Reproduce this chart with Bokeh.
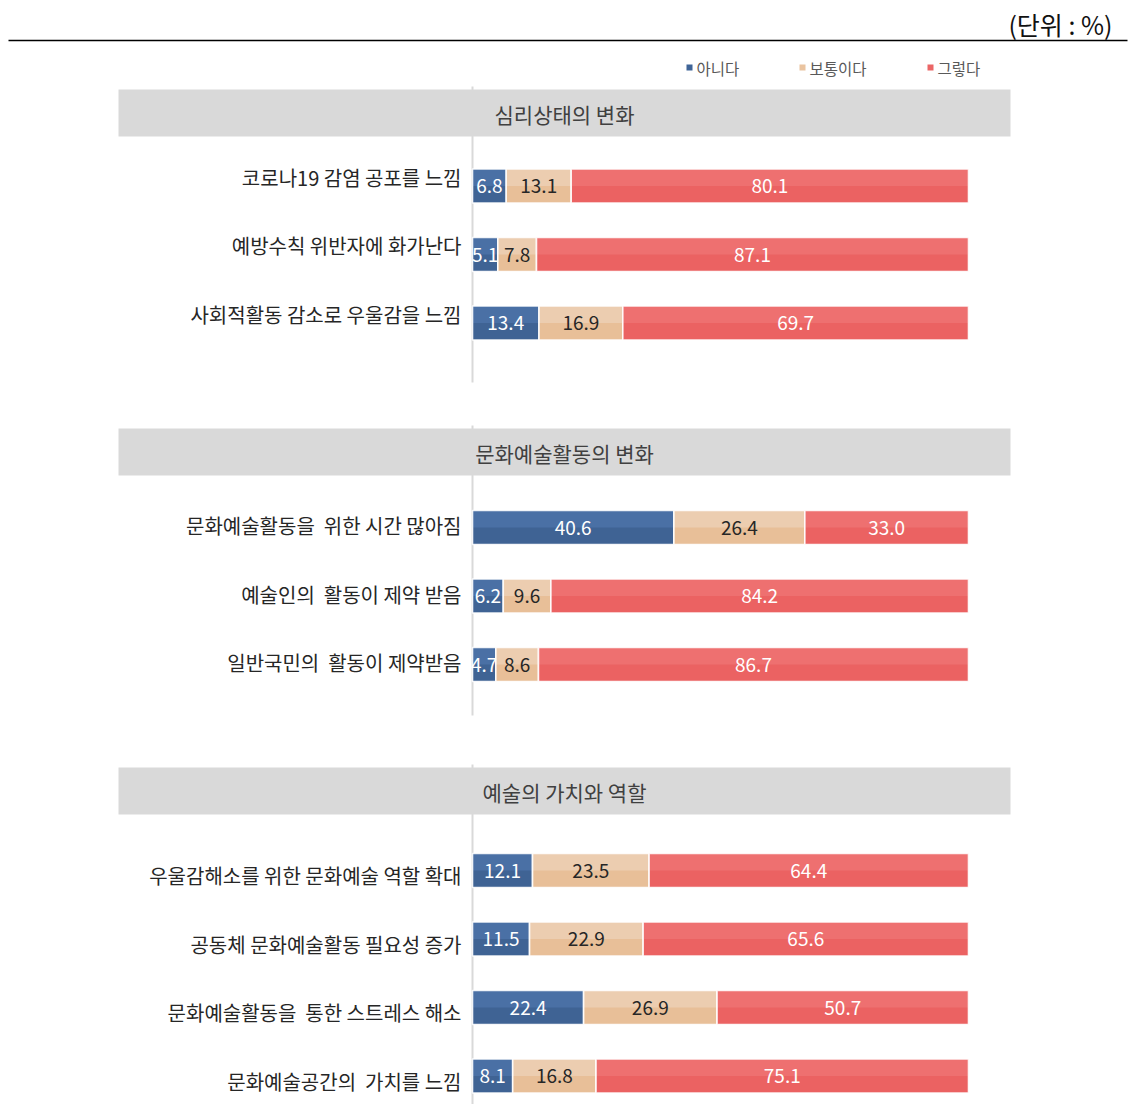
from bokeh.plotting import figure
from bokeh.models import Range1d, ColumnDataSource
from bokeh.core.properties import value
from bokeh.embed import file_html
from bokeh.resources import INLINE

# ---------------- data ----------------
series_names = ["아니다", "보통이다", "그렇다"]
section_titles = ["심리상태의 변화", "문화예술활동의 변화", "예술의 가치와 역할"]

cats_1 = ["코로나19 감염 공포를 느낌", "예방수칙 위반자에 화가난다", "사회적활동 감소로 우울감을 느낌"]
no_1 = [6.8, 5.1, 13.4]
mid_1 = [13.1, 7.8, 16.9]
yes_1 = [80.1, 87.1, 69.7]

cats_2 = ["문화예술활동을 \u00a0위한 시간 많아짐", "예술인의 \u00a0활동이 제약 받음", "일반국민의 \u00a0활동이 제약받음"]
no_2 = [40.6, 6.2, 4.7]
mid_2 = [26.4, 9.6, 8.6]
yes_2 = [33.0, 84.2, 86.7]

cats_3 = ["우울감해소를 위한 문화예술 역할 확대", "공동체 문화예술활동 필요성 증가",
          "문화예술활동을 \u00a0통한 스트레스 해소", "문화예술공간의 \u00a0가치를 느낌"]
no_3 = [12.1, 11.5, 22.4, 8.1]
mid_3 = [23.5, 22.9, 26.9, 16.8]
yes_3 = [64.4, 65.6, 50.7, 75.1]

unit_label = "(단위 : %)"

# ---------------- styling / layout ----------------
FONT = "Noto Sans CJK KR"
W, H = 1129, 1104
X0_PX, PX_PER_PCT = 472.0, 4.96          # 0% at x=472, 100% at x=968
def px(x_img):   # image pixel x -> data units (percent)
    return (x_img - X0_PX) / PX_PER_PCT
def py(y_img):   # image pixel y -> data units
    return y_img

dark = ["#3f6394", "#e8bf98", "#eb6262"]
light = ["#4a70a5", "#eccdb0", "#ee7070"]
legend_cols = ["#3f6497", "#eac4a0", "#eb6666"]
txt_cols = ["white", "#262626", "white"]

header_tops = [89, 428, 767]
header_h = 47
first_center = [185.5, 527.0, 870.0]
row_step = 68.5
label_offset = [-9, -2, 5]
axis_bottom = [382, 715, 1104]
bar_h = 34

p = figure(width=W, height=H, output_backend="svg", toolbar_location=None,
           x_range=Range1d(px(0), px(W)), y_range=Range1d(H, 0),
           min_border=0, outline_line_color=None)
p.axis.visible = False
p.grid.visible = False
p.background_fill_color = "white"
p.border_fill_color = "white"

# unit label and top rule
p.text(x=[px(1112)], y=[py(23)], text=[unit_label], text_font=value(FONT),
       text_font_size="25px", text_color="#111111", text_align="right",
       text_baseline="middle")
p.segment(x0=[px(8)], y0=[py(40)], x1=[px(1127)], y1=[py(40)],
          line_color="black", line_width=1.5)

# legend
leg_sq_x = [689, 802, 930]
for i, name in enumerate(series_names):
    p.rect(x=[px(leg_sq_x[i])], y=[py(67)], width=6 / PX_PER_PCT, height=6,
           fill_color=legend_cols[i], line_color=None)
    p.text(x=[px(leg_sq_x[i] + 7)], y=[py(67)], text=[name], text_font=value(FONT),
           text_font_size="15.5px", text_color="#595959", text_align="left",
           text_baseline="middle")

sections = [(cats_1, no_1, mid_1, yes_1), (cats_2, no_2, mid_2, yes_2),
            (cats_3, no_3, mid_3, yes_3)]

for s, (cats, no, mid, yes) in enumerate(sections):
    top = header_tops[s]
    # axis line
    p.segment(x0=[0], y0=[py(top - 3)], x1=[0], y1=[py(axis_bottom[s])],
              line_color="#d9d9d9", line_width=2)
    # header band
    p.quad(left=[px(118)], right=[px(1010)], top=[py(top)], bottom=[py(top + header_h)],
           fill_color="#d9d9d9", line_color=None)
    p.text(x=[px(564)], y=[py(top + header_h / 2 + 1)], text=[section_titles[s]],
           text_font=value(FONT), text_font_size="21px", text_color="#404040",
           text_align="center", text_baseline="middle")

    ys = [py(first_center[s] + k * row_step) for k in range(len(cats))]
    vals = [no, mid, yes]
    lefts = [0.0] * len(cats)
    for j in range(3):
        rights = [l + v for l, v in zip(lefts, vals[j])]
        src = ColumnDataSource(dict(y=ys, left=lefts, right=rights,
                                    ytop=[y - bar_h / 2 for y in ys],
                                    mid=[(l + r) / 2 for l, r in zip(lefts, rights)],
                                    lab=[f"{v:.1f}" for v in vals[j]]))
        p.hbar(y="y", left="left", right="right", height=bar_h, source=src,
               fill_color=dark[j], line_color=None)
        p.quad(left="left", right="right", top="ytop", bottom="y", source=src,
               fill_color=light[j], line_color=None)
        p.hbar(y="y", left="left", right="right", height=bar_h, source=src,
               fill_color=None, line_color="white", line_width=1.6, line_alpha=0.9)
        p.text(x="mid", y="y", text="lab", source=src, text_font=value(FONT),
               text_font_size="19px", text_color=txt_cols[j], text_align="center",
               text_baseline="middle")
        lefts = rights

    # category labels
    p.text(x=[px(461)] * len(cats), y=[y + label_offset[s] for y in ys], text=cats,
           text_font=value(FONT), text_font_size="20px", text_color="#262626",
           text_align="right", text_baseline="middle")

open("out.html", "w").write(file_html(p, INLINE))
